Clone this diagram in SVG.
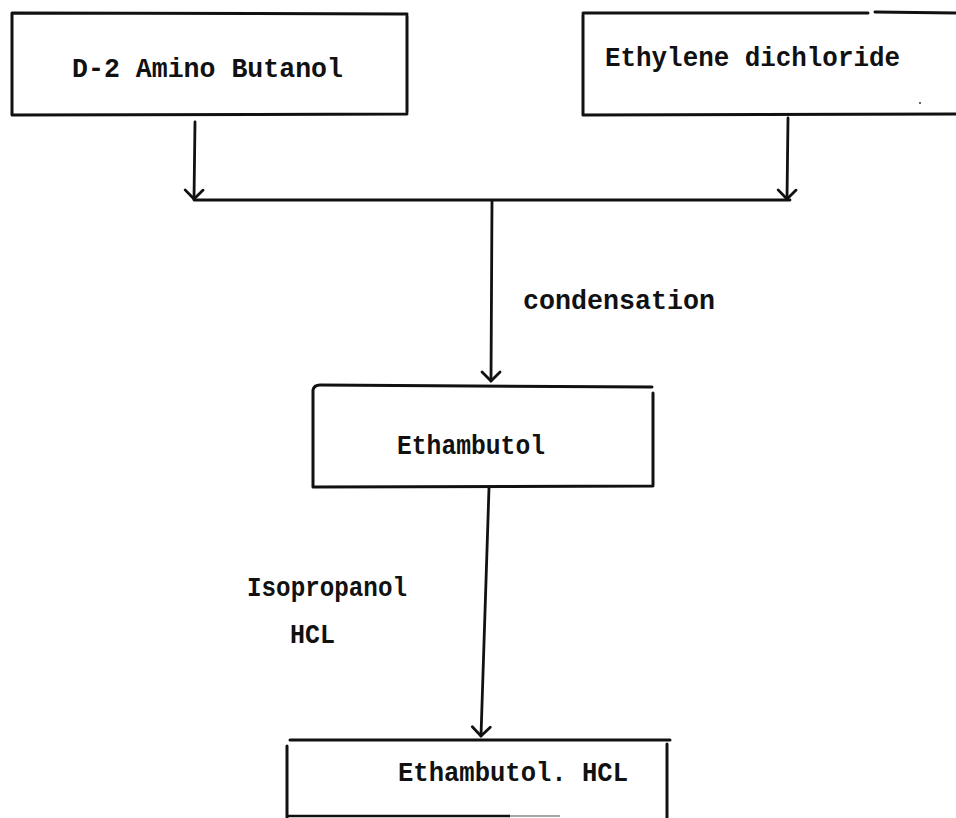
<svg xmlns="http://www.w3.org/2000/svg" width="956" height="818" viewBox="0 0 956 818">
  <style>
    .box { fill: none; stroke: #111; stroke-width: 3; stroke-linecap: round; stroke-linejoin: round; }
    .wire { fill: none; stroke: #111; stroke-width: 2.8; stroke-linecap: round; }
    .lbl { font-family: "Liberation Mono", "Courier New", monospace; font-size: 27px; font-weight: bold; fill: #111; }
  </style>
  <defs>
    <marker id="chev" markerUnits="userSpaceOnUse" markerWidth="24" markerHeight="24" refX="12" refY="12" orient="auto" overflow="visible">
      <path d="M3,3 L12,12 L3,21" fill="none" stroke="#111" stroke-width="2.8" stroke-linecap="round" stroke-linejoin="round"/>
    </marker>
  </defs>
  <rect width="956" height="818" fill="#fff"/>

  <!-- starting materials -->
  <g id="node-amino-butanol">
    <path class="box" d="M12,115 L12,13 L407,14 M407,16 L407,112 M12,115 L407,114"/>
    <text class="lbl" x="72" y="77" textLength="271" lengthAdjust="spacingAndGlyphs">D-2 Amino Butanol</text>
  </g>
  <g id="node-ethylene-dichloride">
    <path class="box" d="M583,115 L583,15 M583,13 L868,13 M875,12 L958,13 M583,115 L958,114"/>
    <circle cx="920" cy="103" r="1" fill="#333"/>
    <text class="lbl" x="605" y="66" textLength="295" lengthAdjust="spacingAndGlyphs">Ethylene dichloride</text>
  </g>

  <!-- intermediate -->
  <g id="node-ethambutol">
    <path class="box" d="M313,487 L313,390 Q314,385 320,385 L652,387 M653,393 L653,485 M313,487 L653,486"/>
    <text class="lbl" x="397" y="454" textLength="148" lengthAdjust="spacingAndGlyphs">Ethambutol</text>
  </g>

  <!-- product -->
  <g id="node-ethambutol-hcl">
    <path class="box" d="M290,740 L670,740 M287,746 L287,818 M667,744 L667,818"/>
    <path d="M287,816 L510,816" fill="none" stroke="#111" stroke-width="2.6"/>
    <path d="M510,816 L560,816" fill="none" stroke="#888" stroke-width="1.5"/>
    <text class="lbl" x="398" y="781" textLength="230" lengthAdjust="spacingAndGlyphs">Ethambutol. HCL</text>
  </g>

  <!-- connectors -->
  <g id="connectors">
    <path class="wire" d="M195,122 L194,199" marker-end="url(#chev)"/>
    <path class="wire" d="M788,118 L787,199" marker-end="url(#chev)"/>
    <path class="wire" d="M194,200 L790,200"/>
    <path class="wire" d="M492,201 L491,381" marker-end="url(#chev)"/>
    <path class="wire" d="M489,488 L481,736" marker-end="url(#chev)"/>
  </g>

  <!-- reaction conditions -->
  <g id="conditions">
    <text class="lbl" x="523" y="309" textLength="192" lengthAdjust="spacingAndGlyphs">condensation</text>
    <text class="lbl" x="247" y="596" textLength="160" lengthAdjust="spacingAndGlyphs">Isopropanol</text>
    <text class="lbl" x="290" y="643" textLength="45" lengthAdjust="spacingAndGlyphs">HCL</text>
  </g>
</svg>
